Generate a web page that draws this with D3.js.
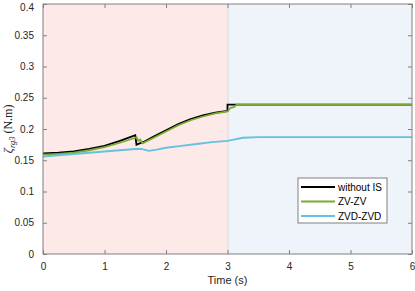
<!DOCTYPE html>
<html>
<head>
<meta charset="utf-8">
<script src="https://cdn.jsdelivr.net/npm/d3@7"></script>
<style>
  body { margin: 0; background: #fff; }
  text { font-family: Arial, "Liberation Sans", sans-serif; }
</style>
</head>
<body>
<script>
'use strict';

// series: [time, value]
const withoutIS = [[0, 0.161], [0.25, 0.162], [0.5, 0.164], [0.75, 0.168], [1.0, 0.173], [1.25, 0.181],
  [1.5, 0.190], [1.52, 0.175], [1.65, 0.180], [1.8, 0.188], [2.0, 0.198], [2.2, 0.208],
  [2.4, 0.216], [2.6, 0.222], [2.8, 0.226], [3.0, 0.229], [3.0, 0.239], [6.0, 0.239]];
const zvzv = [[0, 0.159], [0.25, 0.160], [0.5, 0.162], [0.75, 0.166], [1.0, 0.171], [1.25, 0.178],
  [1.5, 0.186], [1.52, 0.187], [1.55, 0.181], [1.58, 0.183], [1.62, 0.177], [1.8, 0.186],
  [2.0, 0.196], [2.2, 0.206], [2.4, 0.214], [2.6, 0.220], [2.8, 0.225], [3.0, 0.228], [3.05, 0.234],
  [3.1, 0.235], [3.15, 0.239], [6.0, 0.239]];
const zvdzvd = [[0, 0.156], [0.25, 0.158], [0.5, 0.160], [0.75, 0.162], [1.0, 0.164], [1.25, 0.166],
  [1.5, 0.168], [1.6, 0.168], [1.72, 0.165], [1.85, 0.167], [2.0, 0.170], [2.25, 0.173],
  [2.5, 0.176], [2.75, 0.179], [3.0, 0.181], [3.1, 0.183], [3.25, 0.186], [3.5, 0.187], [6.0, 0.187]];

const seriesNames = ["without IS", "ZV-ZV", "ZVD-ZVD"];
const seriesColors = ["#000000", "#77ac30", "#62c3e0"];
const phases = [[0, 3], [3, 6]];
const phaseColors = ["#fce9e8", "#eff3fa"];
const xTicks = [0, 1, 2, 3, 4, 5, 6];
const yTicks = [0, 0.05, 0.1, 0.15, 0.2, 0.25, 0.3, 0.35, 0.4];

const m = { left: 43, right: 412, top: 4, bottom: 254 };
const W = 415, H = 291;

const svg = d3.select('body').append('svg')
  .attr('width', W).attr('height', H);

const x = d3.scaleLinear().domain([0, 6]).range([m.left, m.right]);
const y = d3.scaleLinear().domain([0, 0.4]).range([m.bottom, m.top]);

// shaded phases
svg.selectAll('.phase').data(phases).enter().append('rect')
  .attr('x', d => x(d[0]))
  .attr('y', m.top)
  .attr('width', d => x(d[1]) - x(d[0]))
  .attr('height', m.bottom - m.top)
  .attr('fill', (d, i) => phaseColors[i]);

svg.append('line')
  .attr('x1', x(3) + 0.5).attr('x2', x(3) + 0.5)
  .attr('y1', m.top).attr('y2', m.bottom)
  .attr('stroke', '#e2e2e2').attr('stroke-width', 1.5);

// lines
const line = d3.line().x(d => x(d[0])).y(d => y(d[1]));
[withoutIS, zvzv, zvdzvd].forEach((s, i) => {
  svg.append('path')
    .datum(s)
    .attr('d', line)
    .attr('fill', 'none')
    .attr('stroke', seriesColors[i])
    .attr('stroke-width', 1.8);
});

// axes (MATLAB box style: inward ticks on all sides)
const axisColor = '#808080';
const tl = 4;
function styleAxis(g) {
  g.select('.domain').remove();
  g.selectAll('.tick line').attr('stroke', axisColor);
  g.selectAll('.tick text').attr('fill', '#262626').style('font-size', '10px');
}
svg.append('g').attr('transform', `translate(0,${m.bottom})`)
  .call(d3.axisBottom(x).tickValues(xTicks).tickSizeInner(-tl).tickSizeOuter(0).tickPadding(9).tickFormat(d3.format('d')))
  .call(styleAxis);
svg.append('g').attr('transform', `translate(0,${m.top})`)
  .call(d3.axisTop(x).tickValues(xTicks).tickSizeInner(-tl).tickSizeOuter(0).tickFormat(''))
  .call(styleAxis);
const yAxisG = svg.append('g').attr('transform', `translate(${m.left},0)`)
  .call(d3.axisLeft(y).tickValues(yTicks).tickSizeInner(-tl).tickSizeOuter(0).tickPadding(9).tickFormat(d => d3.format('')(+d.toFixed(2))))
  .call(styleAxis);
// keep the top label inside the window
yAxisG.selectAll('.tick text').filter(d => d === 0.4).attr('dy', '0.6em');
svg.append('g').attr('transform', `translate(${m.right},0)`)
  .call(d3.axisRight(y).tickValues(yTicks).tickSizeInner(-tl).tickSizeOuter(0).tickFormat(''))
  .call(styleAxis);

svg.append('rect')
  .attr('x', m.left).attr('y', m.top)
  .attr('width', m.right - m.left).attr('height', m.bottom - m.top)
  .attr('fill', 'none').attr('stroke', axisColor).attr('stroke-width', 1);

// labels
svg.append('text')
  .attr('x', (m.left + m.right) / 2).attr('y', 284)
  .attr('text-anchor', 'middle')
  .attr('fill', '#262626')
  .style('font-size', '11px')
  .text('Time (s)');

const yl = svg.append('text')
  .attr('transform', `translate(12, ${(m.top + m.bottom) / 2}) rotate(-90)`)
  .attr('text-anchor', 'middle')
  .attr('fill', '#262626')
  .style('font-family', '"Liberation Serif", "DejaVu Serif", serif')
  .style('font-size', '12px');
yl.append('tspan').style('font-style', 'italic').style('font-size', '13px').text('ζ');
yl.append('tspan').attr('dy', 3).style('font-size', '8.5px').style('font-style', 'italic').text('rg3');
yl.append('tspan').attr('dy', -3).text(' (N.m)');

// legend
const lg = svg.append('g').attr('transform', 'translate(298,178)');
lg.append('rect').attr('width', 89).attr('height', 45)
  .attr('fill', '#fff').attr('stroke', '#808080').attr('stroke-width', 1);
seriesNames.forEach((name, i) => {
  const yy = 9 + i * 14.5;
  lg.append('line').attr('x1', 3).attr('x2', 37).attr('y1', yy).attr('y2', yy)
    .attr('stroke', seriesColors[i]).attr('stroke-width', 2);
  lg.append('text').attr('x', 40).attr('y', yy + 3.5)
    .attr('fill', '#000').style('font-size', '10px').text(name);
});
</script>
</body>
</html>
